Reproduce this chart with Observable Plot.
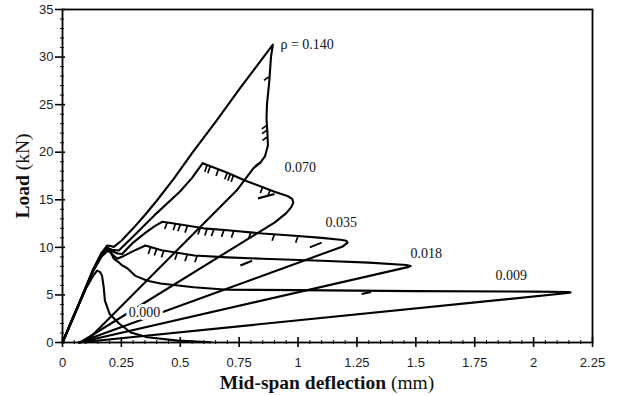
<!DOCTYPE html>
<html>
<head>
<meta charset="utf-8">
<script src="https://cdn.jsdelivr.net/npm/d3@7"></script>
<script src="https://cdn.jsdelivr.net/npm/@observablehq/plot@0.6"></script>
<style>
  html, body { margin: 0; padding: 0; background: #fff; }
  #chart svg { display: block; }
</style>
</head>
<body>
<div id="chart"></div>
<script>
// ---- Data ----
const xTicks = [0, 0.25, 0.5, 0.75, 1, 1.25, 1.5, 1.75, 2, 2.25];
const xTickLabels = ["0", "0.25", "0.5", "0.75", "1", "1.25", "1.5", "1.75", "2", "2.25"];
const yTicks = [0, 5, 10, 15, 20, 25, 30, 35];
const yTickLabels = ["0", "5", "10", "15", "20", "25", "30", "35"];
const xMinor = [0.05,0.1,0.15,0.2,0.3,0.35,0.4,0.45,0.55,0.6,0.65,0.7,0.8,0.85,0.9,0.95,1.05,1.1,1.15,1.2,1.3,1.35,1.4,1.45,1.55,1.6,1.65,1.7,1.8,1.85,1.9,1.95,2.05,2.1,2.15,2.2];
const yMinor = [1,2,3,4,6,7,8,9,11,12,13,14,16,17,18,19,21,22,23,24,26,27,28,29,31,32,33,34];

const series = ["0.140", "0.070", "0.035", "0.018", "0.009", "0.000"];

const defl140 = [0,0.07,0.13,0.165,0.19,0.205,0.218,0.25,0.3,0.35,0.4,0.472,0.55,0.65,0.75,0.85,0.893,0.885,0.878,0.868,0.866,0.87,0.872,0.86,0.84,0.81,0.74,0.096];
const load140 = [0,4.1,7.7,9.4,10.2,10.15,10.05,10.7,12.0,13.4,14.9,17.2,19.9,23.2,26.6,29.9,31.3,30.0,27.5,25.0,23.5,22.0,20.7,19.6,18.9,18.3,16.0,0];

const defl070 = [0,0.07,0.13,0.165,0.19,0.21,0.239,0.3,0.4,0.5,0.55,0.595,0.7,0.777,0.9,0.955,0.975,0.98,0.972,0.95,0.90,0.075];
const load070 = [0,4.05,7.6,9.3,9.95,9.75,9.67,11.15,13.6,15.9,17.3,18.85,17.85,17.0,15.85,15.4,15.1,14.7,14.25,13.6,12.6,0];

const defl035 = [0,0.07,0.13,0.165,0.19,0.21,0.235,0.253,0.3,0.35,0.39,0.425,0.5,0.6,0.7,0.85,1.0,1.1,1.18,1.205,1.21,1.19,1.024,0.07];
const load035 = [0,4.05,7.6,9.2,9.85,9.6,9.35,9.3,10.5,11.5,12.2,12.7,12.4,12.0,11.8,11.45,11.2,11.0,10.8,10.7,10.5,10.1,8.6,0];

const defl018 = [0,0.07,0.13,0.165,0.19,0.21,0.232,0.26,0.3,0.352,0.42,0.56,0.7,0.85,1.1,1.3,1.46,1.478,1.47,0.07];
const load018 = [0,4.05,7.55,9.1,9.75,9.3,8.8,9.1,9.6,10.2,9.7,9.15,8.95,8.8,8.6,8.4,8.15,8.05,7.95,0];

const defl009 = [0,0.07,0.13,0.165,0.19,0.204,0.218,0.24,0.253,0.275,0.31,0.36,0.416,0.557,0.7,1.0,1.5,2.0,2.15,2.157,2.145,0.07];
const load009 = [0,4.0,7.5,9.0,9.6,9.5,8.8,8.4,8.1,7.8,7.0,6.5,6.2,5.8,5.55,5.5,5.4,5.35,5.3,5.25,5.2,0];

const defl000 = [0,0.05,0.1,0.13,0.147,0.16,0.168,0.175,0.18,0.2,0.24,0.29,0.36,0.49,0.63];
const load000 = [0,3.0,5.7,7.0,7.55,7.4,7.0,5.8,4.4,3.0,2.0,1.05,0.56,0.2,0.03];

// crack markers (hatch anchors on the curves)
const hatchDefl = [0.614,0.627,0.662,0.699,0.712,0.726,0.85,0.882,
                   0.444,0.48,0.50,0.53,0.585,0.614,0.642,0.685,0.727,0.80,0.9,1.0,
                   0.374,0.40,0.43,0.487,0.53,0.572];
const hatchLoad = [18.65,18.5,18.2,17.85,17.7,17.6,16.4,16.1,
                   12.62,12.5,12.4,12.25,12.05,11.95,11.88,11.8,11.72,11.6,11.4,11.2,
                   10.0,9.85,9.65,9.4,9.25,9.15];
const sideHatchDefl = [0.875,0.866,0.867,0.869,0.838];
const sideHatchLoad = [27.9,22.8,22.3,21.6,18.9];

// short reloading dashes
const dashX1 = [0.83, 1.05, 0.755, 1.27];
const dashY1 = [15.15, 10.0, 8.1, 5.1];
const dashX2 = [0.90, 1.10, 0.805, 1.31];
const dashY2 = [15.6, 10.5, 8.6, 5.3];

// labels
const labelText = ["\u03c1 = 0.140", "0.070", "0.035", "0.018", "0.009"];
const labelX = [0.925, 0.942, 1.116, 1.477, 1.838];
const labelY = [31.3, 18.4, 12.65, 9.4, 7.04];
const zeroLabel = ["0.000"];
const zeroX = [0.281];
const zeroY = [3.19];

// ---- Build tables ----
const pairs = [[defl140, load140], [defl070, load070], [defl035, load035], [defl018, load018], [defl009, load009], [defl000, load000]];
const rows = [];
series.forEach((s, i) => pairs[i][0].forEach((x, j) => rows.push({s, x, y: pairs[i][1][j]})));
const hatches = hatchDefl.map((x, i) => ({x, y: hatchLoad[i]}));
const sideHatches = sideHatchDefl.map((x, i) => ({x, y: sideHatchLoad[i]}));
const dashes = dashX1.map((x, i) => ({x1: x, y1: dashY1[i], x2: dashX2[i], y2: dashY2[i]}));
const labels = labelText.map((t, i) => ({t, x: labelX[i], y: labelY[i]}));
const zlabels = zeroLabel.map((t, i) => ({t, x: zeroX[i], y: zeroY[i]}));

const serif = "'Liberation Serif', 'Times New Roman', serif";
const sans = "'Liberation Sans', Arial, sans-serif";

const chart = Plot.plot({
  width: 617,
  height: 396,
  marginLeft: 62,
  marginRight: 25,
  marginTop: 9,
  marginBottom: 54,
  style: {fontFamily: sans, background: "#fff", color: "#111"},
  x: {domain: [0, 2.25]},
  y: {domain: [0, 35]},
  marks: [
    Plot.line(rows, {x: "x", y: "y", z: "s", stroke: "#000", strokeWidth: 2.1, strokeLinejoin: "round", strokeLinecap: "round"}),
    Plot.link(hatches, {x1: "x", y1: "y", x2: d => d.x - 0.01, y2: d => d.y - 0.7, stroke: "#000", strokeWidth: 1.7}),
    Plot.link(sideHatches, {x1: "x", y1: "y", x2: d => d.x - 0.02, y2: d => d.y - 0.35, stroke: "#000", strokeWidth: 1.7}),
    Plot.link(dashes, {x1: "x1", y1: "y1", x2: "x2", y2: "y2", stroke: "#000", strokeWidth: 2.1}),
    Plot.text(zlabels, {x: "x", y: "y", text: "t", textAnchor: "start", fontFamily: serif, fontSize: 14, fill: "#111", stroke: "#fff", strokeWidth: 6}),
    Plot.text(labels, {x: "x", y: "y", text: "t", textAnchor: "start", fontFamily: serif, fontSize: 14, fill: "#111"}),
    Plot.frame({stroke: "#000", strokeWidth: 1.8}),
    // major ticks crossing the frame
    Plot.axisX(xTicks, {tickSize: 10, dy: -5, tickFormat: () => "", stroke: "#000", strokeWidth: 1.6, label: null}),
    Plot.axisX(xMinor, {tickSize: 4, dy: -2, tickFormat: () => "", stroke: "#000", strokeWidth: 1, label: null}),
    Plot.axisX(xTicks, {tickSize: 0, tickPadding: 15, tickFormat: (d, i) => xTickLabels[i], fontSize: 13, fill: "#222", label: null}),
    Plot.axisY(yTicks, {tickSize: 10, dx: 3, tickFormat: () => "", stroke: "#000", strokeWidth: 1.6, label: null}),
    Plot.axisY(yMinor, {tickSize: 4, dx: 2, tickFormat: () => "", stroke: "#000", strokeWidth: 1, label: null}),
    Plot.axisY(yTicks, {tickSize: 0, tickPadding: 9, tickFormat: (d, i) => yTickLabels[i], fontSize: 13, fill: "#222", label: null})
  ]
});

document.getElementById("chart").appendChild(chart);

// axis titles with mixed bold/regular
const svg = d3.select(chart);
const xt = svg.append("text")
  .attr("x", 327).attr("y", 389)
  .attr("text-anchor", "middle")
  .attr("font-family", serif).attr("font-size", 19.5).attr("fill", "#111");
xt.append("tspan").attr("font-weight", "bold").text("Mid-span deflection");
xt.append("tspan").text(" (mm)");

const yt = svg.append("text")
  .attr("transform", "translate(29,176) rotate(-90)")
  .attr("text-anchor", "middle")
  .attr("font-family", serif).attr("font-size", 19.5).attr("fill", "#111");
yt.append("tspan").attr("font-weight", "bold").text("Load");
yt.append("tspan").text(" (kN)");
</script>
</body>
</html>
